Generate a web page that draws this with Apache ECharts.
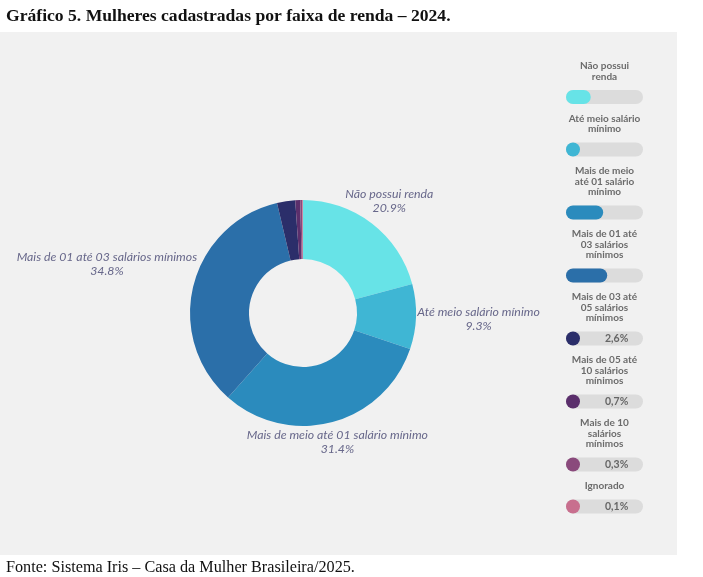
<!DOCTYPE html>
<html>
<head>
<meta charset="utf-8">
<script src="https://cdn.jsdelivr.net/npm/echarts@6/dist/echarts.min.js"></script>
<style>
html,body{margin:0;padding:0;background:#fff;}
#panel{position:absolute;left:0;top:32px;width:677px;height:523px;background:#f1f1f1;}
#chart{position:absolute;left:0;top:0;width:703px;height:577px;}
</style>
</head>
<body>
<div id="panel"></div>
<div id="chart"></div>
<script>
const titleText = 'Gráfico 5. Mulheres cadastradas por faixa de renda – 2024.';
const sourceText = 'Fonte: Sistema Iris – Casa da Mulher Brasileira/2025.';
const categories = ['Não possui renda', 'Até meio salário mínimo', 'Mais de meio até 01 salário mínimo', 'Mais de 01 até 03 salários mínimos', 'Mais de 03 até 05 salários mínimos', 'Mais de 05 até 10 salários mínimos', 'Mais de 10 salários mínimos', 'Ignorado'];
const legendNames = ['Não possui\nrenda', 'Até meio salário\nmínimo', 'Mais de meio\naté 01 salário\nmínimo', 'Mais de 01 até\n03 salários\nmínimos', 'Mais de 03 até\n05 salários\nmínimos', 'Mais de 05 até\n10 salários\nmínimos', 'Mais de 10\nsalários\nmínimos', 'Ignorado'];
const values = [20.9, 9.3, 31.4, 34.8, 2.6, 0.7, 0.3, 0.1];
const colors = ['#67e3e7', '#3fb6d4', '#2b8bbd', '#2b6fa9', '#2b2e6a', '#5b2f6c', '#8a4a7c', '#c86f8e'];

const chart = echarts.init(document.getElementById('chart'));
const labelColor = '#67678a';
const pieCenter = [303, 313];
const labelGap = 114;
const trackMax = 65;
const trackH = 14;
const legendLineH = 10.5;

const pieData = categories.map((c, i) => ({
  name: c, value: values[i],
  itemStyle: { color: colors[i] },
  label: { show: values[i] > 5 }
}));

// legend rows: one small grid per row, stacked like a text flow
const grids = [], xAxes = [], yAxes = [], legendSeries = [];
let rowY = 97;
categories.forEach((c, i) => {
  if (i > 0) rowY += 31.5 + legendLineH * legendNames[i].split('\n').length;
  grids.push({ left: 566, width: 77, top: rowY - trackH / 2, height: trackH });
  xAxes.push({ gridIndex: i, type: 'value', min: 0, max: trackMax, show: false });
  yAxes.push({ gridIndex: i, type: 'category', data: [c], show: false });
  legendSeries.push({
    type: 'bar', xAxisIndex: i, yAxisIndex: i,
    data: [trackMax],
    barWidth: trackH,
    itemStyle: { color: '#dcdcdc', borderRadius: 7 },
    label: {
      show: true, position: 'top', distance: 8,
      formatter: () => legendNames[i],
      fontFamily: 'Lato', fontWeight: 'bold', fontSize: 10, lineHeight: legendLineH, color: '#6b6b6b', align: 'center'
    },
    silent: true
  });
  legendSeries.push({
    type: 'bar', xAxisIndex: i, yAxisIndex: i,
    data: [values[i]],
    barWidth: trackH,
    barGap: '-100%',
    barMinHeight: trackH,
    itemStyle: { color: colors[i], borderRadius: 7 },
    label: {
      show: values[i] < 5,
      position: [39, 1.5],
      formatter: p => String(p.value).replace('.', ',') + '%',
      fontFamily: 'Lato', fontWeight: 'bold', fontSize: 10.5, color: '#666'
    },
    silent: true
  });
});

chart.setOption({
  animation: false,
  title: [
    { text: titleText, left: 1, top: 2, textStyle: { fontFamily: 'Liberation Serif', fontWeight: 'bold', fontSize: 17.6, color: '#111' } },
    { text: sourceText, left: 1, top: 555, textStyle: { fontFamily: 'Liberation Serif', fontWeight: 'normal', fontSize: 16.2, color: '#111' } }
  ],
  grid: grids,
  xAxis: xAxes,
  yAxis: yAxes,
  series: [
    {
      type: 'pie',
      center: pieCenter,
      radius: [54, 113],
      startAngle: 90,
      clockwise: true,
      data: pieData,
      label: {
        position: 'outside',
        overflow: 'none',
        lineHeight: 14,
        formatter: p => '{c|' + p.name + '}\n{c|' + p.value.toFixed(1) + '%}',
        rich: { c: { align: 'center', fontFamily: 'Lato', fontStyle: 'italic', fontSize: 12.3, color: labelColor, lineHeight: 14 } }
      },
      labelLine: { show: false, length: 4, length2: 0 },
      labelLayout: function (params) {
        if (!params.labelLinePoints || !params.labelRect) return {};
        const p0 = params.labelLinePoints[0];
        let dx = p0[0] - pieCenter[0], dy = p0[1] - pieCenter[1];
        const len = Math.sqrt(dx * dx + dy * dy) || 1;
        dx /= len; dy /= len;
        const hw = params.labelRect.width / 2, hh = params.labelRect.height / 2;
        const t = labelGap + dx * dx * hw + Math.abs(dy) * hh;
        return {
          x: pieCenter[0] + dx * t,
          y: pieCenter[1] + dy * t,
          align: 'center',
          verticalAlign: 'middle'
        };
      },
      emphasis: { disabled: true }
    }
  ].concat(legendSeries)
});
</script>
</body>
</html>
